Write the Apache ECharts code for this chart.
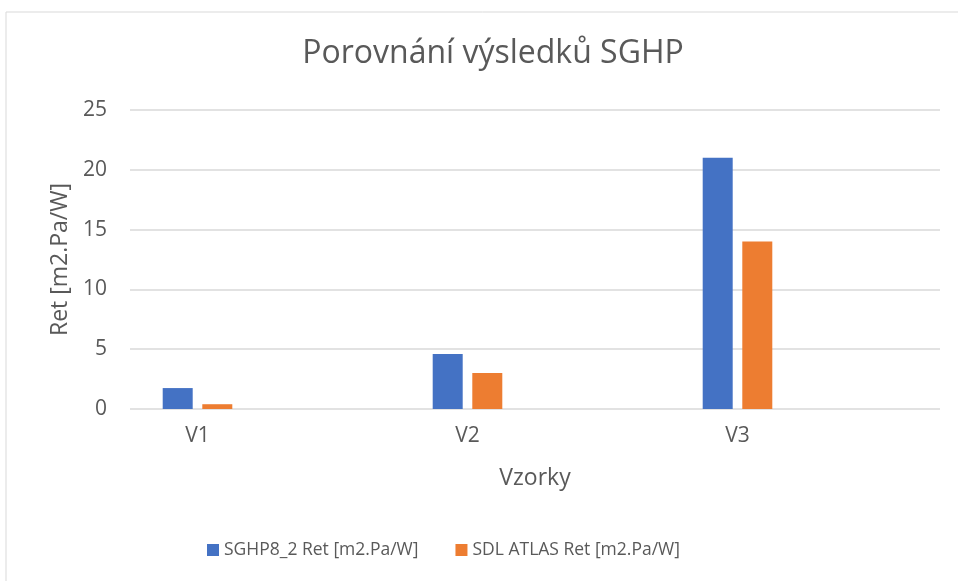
<!DOCTYPE html>
<html><head><meta charset="utf-8">
<script src="https://cdn.jsdelivr.net/npm/echarts@6/dist/echarts.min.js"></script>
<style>html,body{margin:0;padding:0;background:#fff}#c{width:958px;height:581px}</style>
</head><body><div id="c"></div>
<script>
const titleText = 'Porovnání výsledků SGHP';
const categories = ['V1', 'V2', 'V3'];
const seriesNames = ['SGHP8_2 Ret [m2.Pa/W]', 'SDL ATLAS Ret [m2.Pa/W]'];
const sghpValues = [1.75, 4.6, 21];
const atlasValues = [0.4, 3.0, 14];
const yTicks = [0, 5, 10, 15, 20, 25];

const FONT = '"Open Sans", "Liberation Sans", sans-serif';
const TXT = '#595959';
const chart = echarts.init(document.getElementById('c'));
chart.setOption({
  backgroundColor: '#fff',
  animation: false,
  title: { text: titleText, left: 488, textAlign: 'center', top: 33,
    textStyle: { fontFamily: FONT, fontSize: 32, fontWeight: 'normal', color: TXT } },
  legend: { bottom: 17, left: 202, itemWidth: 12, itemHeight: 12, itemGap: 37,
    icon: 'rect', textStyle: { fontFamily: FONT, fontSize: 17.5, color: TXT }, data: seriesNames },
  graphic: [{ type: 'rect', shape: { x: 6, y: 12, width: 960, height: 580 },
    style: { fill: 'none', stroke: '#d9d9d9', lineWidth: 1 }, silent: true }],
  grid: [
    { left: 130, right: 18, top: 110, bottom: 172 },
    { left: 62.5, right: 85.5, top: 110, bottom: 172 }
  ],
  xAxis: [
    { type: 'category', gridIndex: 0, data: categories, axisLabel: { show: false },
      axisLine: { show: false }, axisTick: { show: false },
      name: 'Vzorky', nameLocation: 'middle', nameGap: 58,
      nameTextStyle: { fontFamily: FONT, fontSize: 23, color: TXT } },
    { type: 'category', gridIndex: 1, data: categories,
      axisLine: { show: false }, axisTick: { show: false },
      axisLabel: { margin: 17, fontFamily: FONT, fontSize: 21, color: TXT } }
  ],
  yAxis: [
    { type: 'value', gridIndex: 0, min: yTicks[0], max: yTicks[yTicks.length - 1], interval: 5,
      axisLine: { show: false }, axisTick: { show: false },
      axisLabel: { margin: 23, fontFamily: FONT, fontSize: 21, color: TXT },
      splitLine: { lineStyle: { color: '#d9d9d9', width: 1.5 } },
      name: 'Ret [m2.Pa/W]', nameLocation: 'middle', nameGap: 57,
      nameTextStyle: { fontFamily: FONT, fontSize: 23, color: TXT } },
    { type: 'value', gridIndex: 1, min: 0, max: 25, interval: 5, show: false }
  ],
  series: [
    { name: seriesNames[0], type: 'bar', xAxisIndex: 1, yAxisIndex: 1, data: sghpValues,
      barWidth: 30, barGap: '32%', itemStyle: { color: '#4472C4' } },
    { name: seriesNames[1], type: 'bar', xAxisIndex: 1, yAxisIndex: 1, data: atlasValues,
      barWidth: 30, barGap: '32%', itemStyle: { color: '#ED7D31' } }
  ]
});
</script></body></html>
